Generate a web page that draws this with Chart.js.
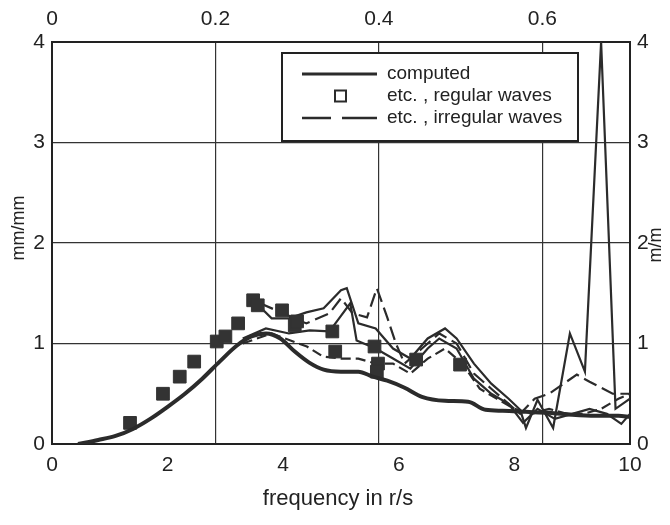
<!DOCTYPE html>
<html>
<head>
<meta charset="utf-8">
<script src="https://cdn.jsdelivr.net/npm/chart.js@4/dist/chart.umd.min.js"></script>
<style>
  html, body { margin: 0; padding: 0; background: #fff; }
</style>
</head>
<body>
<canvas id="chart" width="670" height="525"></canvas>
<script>
// top axis is the bottom frequency divided by this factor
const topFactor = 14.14;
const xMax = 10;
const yMax = 4;

// computed response
const compX = [0.45, 0.8, 1.1, 1.4, 1.7, 2.0, 2.3, 2.6, 2.9, 3.2, 3.45, 3.7, 3.95, 4.2, 4.45, 4.7, 5.0, 5.3, 5.55, 5.8, 6.1, 6.4, 6.8, 7.2, 7.5, 7.8, 8.2, 8.6, 9.0, 9.4, 9.8, 10.0];
const compY = [0.0, 0.04, 0.08, 0.15, 0.25, 0.37, 0.5, 0.65, 0.82, 0.98, 1.07, 1.1, 1.05, 0.92, 0.81, 0.74, 0.72, 0.72, 0.67, 0.63, 0.56, 0.47, 0.43, 0.42, 0.34, 0.33, 0.32, 0.31, 0.29, 0.28, 0.28, 0.27];

// regular waves (measured points)
const regX = [1.35, 1.92, 2.21, 2.46, 2.85, 3.0, 3.22, 3.48, 3.56, 3.98, 4.2, 4.24, 4.85, 4.9, 5.58, 5.64, 5.62, 6.3, 7.06];
const regY = [0.21, 0.5, 0.67, 0.82, 1.02, 1.07, 1.2, 1.43, 1.38, 1.33, 1.18, 1.22, 1.12, 0.92, 0.97, 0.8, 0.72, 0.84, 0.79];

// irregular waves, four runs
const irr1X = [3.5, 3.8, 4.1, 4.4, 4.7, 5.0, 5.1, 5.3, 5.6, 5.9, 6.2, 6.5, 6.8, 7.0, 7.3, 7.6, 7.9, 8.1, 8.2, 8.4, 8.67, 8.96, 9.22, 9.5, 9.75, 10.0];
const irr1Y = [1.42, 1.25, 1.25, 1.31, 1.35, 1.53, 1.55, 1.2, 1.15, 0.95, 0.85, 1.05, 1.15, 1.05, 0.8, 0.6, 0.45, 0.34, 0.16, 0.44, 0.16, 1.1, 0.72, 4.0, 0.35, 0.45];
const irr2X = [3.6, 4.0, 4.4, 4.8, 5.0, 5.2, 5.45, 5.62, 5.8, 5.95, 6.1, 6.4, 6.7, 7.0, 7.3, 7.6, 7.9, 8.1, 8.35, 8.6, 9.08, 9.3, 9.7, 10.0];
const irr2Y = [1.4, 1.3, 1.2, 1.3, 1.45, 1.3, 1.26, 1.55, 1.26, 1.0, 0.8, 0.95, 1.1, 1.0, 0.7, 0.55, 0.4, 0.3, 0.45, 0.5, 0.69, 0.62, 0.5, 0.5];
const irr3X = [3.3, 3.7, 4.1, 4.46, 4.8, 4.98, 5.16, 5.27, 5.6, 5.9, 6.2, 6.5, 6.7, 7.0, 7.3, 7.6, 7.9, 8.15, 8.4, 8.7, 9.0, 9.3, 9.6, 9.85, 10.0];
const irr3Y = [1.05, 1.15, 1.1, 1.13, 1.12, 1.26, 1.4, 1.03, 0.95, 0.85, 0.75, 0.95, 1.05, 0.95, 0.65, 0.5, 0.4, 0.21, 0.35, 0.25, 0.3, 0.35, 0.3, 0.2, 0.3];
const irr4X = [3.3, 3.8, 4.41, 4.69, 5.0, 5.3, 5.6, 5.9, 6.2, 6.5, 6.8, 7.1, 7.4, 7.7, 8.0, 8.3, 8.6, 8.9, 9.2, 9.5, 9.8, 10.0];
const irr4Y = [1.0, 1.1, 0.97, 0.87, 0.85, 0.85, 0.8, 0.8, 0.7, 0.85, 0.95, 0.8, 0.55, 0.45, 0.35, 0.3, 0.35, 0.3, 0.3, 0.35, 0.45, 0.5];

const legendLabels = ["computed", "etc. , regular waves", "etc. , irregular waves"];
const xTitle = "frequency in r/s";
const yTitle = "mm/mm";
const y2Title = "m/m";

const FONT = '"Liberation Sans", Arial, sans-serif';
const INK = "#2b2b2b";

function pts(xs, ys) {
  return xs.map((x, i) => ({ x: x, y: ys[i] }));
}

function irregular(xs, ys, dash) {
  return {
    data: pts(xs, ys),
    borderColor: INK,
    borderWidth: 2.2,
    borderDash: dash,
    pointRadius: 0,
    tension: 0,
    fill: false,
  };
}

// titles and the boxed legend are drawn by hand
const decor = {
  id: "decor",
  afterDraw(chart) {
    const ctx = chart.ctx;
    ctx.save();
    ctx.fillStyle = "#222";
    ctx.textBaseline = "middle";

    ctx.font = "22px " + FONT;
    ctx.textAlign = "center";
    ctx.fillText(xTitle, 338, 499);

    ctx.font = "18px " + FONT;
    ctx.save();
    ctx.translate(19, 228);
    ctx.rotate(-Math.PI / 2);
    ctx.fillText(yTitle, 0, 0);
    ctx.restore();
    ctx.save();
    ctx.translate(656, 245);
    ctx.rotate(-Math.PI / 2);
    ctx.fillText(y2Title, 0, 0);
    ctx.restore();

    // legend box
    ctx.fillStyle = "#fff";
    ctx.fillRect(282, 53, 296, 88);
    ctx.strokeStyle = "#222";
    ctx.lineWidth = 2;
    ctx.strokeRect(282, 53, 296, 88);

    const rows = [74, 96, 118];
    ctx.strokeStyle = INK;
    ctx.lineWidth = 3;
    ctx.beginPath();
    ctx.moveTo(302, rows[0]);
    ctx.lineTo(377, rows[0]);
    ctx.stroke();

    ctx.lineWidth = 2;
    ctx.strokeRect(335, rows[1] - 5.5, 11, 11);

    ctx.lineWidth = 2.5;
    ctx.beginPath();
    ctx.moveTo(302, rows[2]);
    ctx.lineTo(331, rows[2]);
    ctx.moveTo(342, rows[2]);
    ctx.lineTo(377, rows[2]);
    ctx.stroke();

    ctx.fillStyle = "#222";
    ctx.font = "19px " + FONT;
    ctx.textAlign = "left";
    legendLabels.forEach((t, i) => ctx.fillText(t, 387, rows[i]));
    ctx.restore();
  },
};

const tickFont = { family: FONT, size: 21 };

new Chart(document.getElementById("chart").getContext("2d"), {
  type: "line",
  data: {
    datasets: [
      {
        data: pts(compX, compY),
        borderColor: INK,
        borderWidth: 4,
        pointRadius: 0,
        cubicInterpolationMode: "monotone",
        fill: false,
      },
      {
        data: pts(regX, regY),
        showLine: false,
        pointStyle: "rect",
        pointRadius: 9,
        backgroundColor: "#333",
        borderColor: "#333",
        borderWidth: 1,
      },
      irregular(irr1X, irr1Y, []),
      irregular(irr2X, irr2Y, [14, 6]),
      irregular(irr3X, irr3Y, []),
      irregular(irr4X, irr4Y, [10, 5]),
    ],
  },
  options: {
    responsive: false,
    animation: false,
    devicePixelRatio: 1,
    layout: { padding: 0 },
    plugins: {
      legend: { display: false },
      tooltip: { enabled: false },
    },
    scales: {
      x: {
        type: "linear",
        position: "bottom",
        min: 0,
        max: xMax,
        ticks: { stepSize: 2, font: tickFont, color: "#222", padding: 9, maxRotation: 0 },
        grid: { drawOnChartArea: false, drawTicks: false },
        border: { color: "#222", width: 2 },
        afterFit: (s) => { s.height = 81; },
      },
      x2: {
        type: "linear",
        position: "top",
        min: 0,
        max: xMax / topFactor,
        ticks: {
          stepSize: 0.2,
          includeBounds: false,
          font: tickFont,
          color: "#222",
          padding: 10,
          maxRotation: 0,
          callback: (v) => (v === 0 ? "0" : v.toFixed(1)),
        },
        grid: { color: "#333", lineWidth: 1.2, drawTicks: false },
        border: { color: "#222", width: 2 },
        afterFit: (s) => { s.height = 42; },
      },
      y: {
        min: 0,
        max: yMax,
        ticks: { stepSize: 1, font: tickFont, color: "#222", padding: 7 },
        grid: { color: "#333", lineWidth: 1.2, drawTicks: false },
        border: { color: "#222", width: 2 },
        afterFit: (s) => { s.width = 52; },
      },
      y2: {
        position: "right",
        min: 0,
        max: yMax,
        ticks: { stepSize: 1, font: tickFont, color: "#222", padding: 7 },
        grid: { drawOnChartArea: false, drawTicks: false },
        border: { color: "#222", width: 2 },
        afterFit: (s) => { s.width = 40; },
      },
    },
  },
  plugins: [decor],
});
</script>
</body>
</html>
